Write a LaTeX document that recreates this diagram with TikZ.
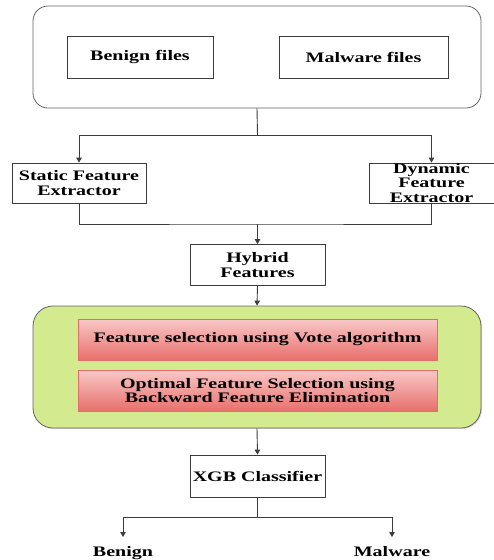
\documentclass[tikz,border=0pt]{standalone}
\usepackage{fontspec}
\setmainfont[FakeStretch=1.38]{Liberation Serif}
\usepackage{tikz}
\usetikzlibrary{arrows.meta, positioning, shadows}
\definecolor{linegray}{RGB}{60,60,60}
\definecolor{panelgreen}{RGB}{212,234,143}
\definecolor{redtop}{RGB}{248,200,199}
\definecolor{redbot}{RGB}{232,112,108}
\definecolor{redline}{RGB}{226,110,108}
\tikzset{
  box/.style={
    draw=linegray, rectangle, fill=white,
    font=\fontsize{14.5}{14.5}\selectfont\bfseries,
    align=center, inner sep=0pt, line width=0.8pt
  },
  panel/.style={
    draw=linegray!80, rectangle, line width=0.8pt, inner sep=0pt
  },
  redbox/.style={
    draw=redline, rectangle, top color=redtop, bottom color=redbot,
    font=\fontsize{14.5}{14.5}\selectfont\bfseries,
    align=center, inner sep=0pt, line width=0.6pt
  },
  outtext/.style={font=\fontsize{14.5}{14.5}\selectfont\bfseries, inner sep=0pt, anchor=base},
  arrow/.style={-{Triangle[length=5pt,width=5.5pt]}, line width=0.9pt, draw=linegray},
  wire/.style={line width=0.9pt, draw=linegray}
}
\begin{document}
\begin{tikzpicture}[x=1pt, y=-1pt]
  \useasboundingbox (0,0) rectangle (494,560);

  % input files
  \node[panel, rounded corners=15pt, minimum width=448pt, minimum height=102pt] (input) at (257,57) {};
  \node[box, minimum width=146pt, minimum height=42pt] (benign) at (140,57) {Benign files};
  \node[box, minimum width=169pt, minimum height=42pt] (malware) at (363.5,57) {Malware files};

  % extractors
  \node[box, minimum width=134pt, minimum height=40pt] (static) at (79,183) {Static Feature\\Extractor};
  \node[box, minimum width=125pt, minimum height=40pt] (dynamic) at (431.5,183) {Dynamic\\Feature\\Extractor};
  \node[box, minimum width=135pt, minimum height=41pt] (hybrid) at (257.5,265) {Hybrid\\Features};

  % feature selection
  \node[panel, fill=panelgreen, rounded corners=20pt, minimum width=448pt, minimum height=122pt,
        drop shadow={shadow xshift=1pt, shadow yshift=-1pt, opacity=0.3}] (select) at (257,367) {};
  \node[redbox, minimum width=359pt, minimum height=41pt] (vote) at (257.5,339.5) {Feature selection using Vote algorithm};
  \node[redbox, minimum width=359pt, minimum height=41pt] (bfe) at (257.5,390.5) {Optimal Feature Selection using\\Backward Feature Elimination};

  % classifier
  \node[box, minimum width=135pt, minimum height=42pt] (xgb) at (257.5,476) {XGB Classifier};
  \node[outtext] (isbenign) at (123,556) {Benign};
  \node[outtext] (ismalware) at (392,556) {Malware};

  \coordinate (split) at (257.5,135);
  \coordinate (join) at (257.5,224);
  \coordinate (fork) at (257.5,517);
  \coordinate (tobenign) at (123,537);
  \coordinate (tomalware) at (392,537);

  \draw[wire] (input.south) -- (split);
  \draw[arrow] (split) -| (static.north);
  \draw[arrow] (split) -| (dynamic.north);
  \draw[wire] (static.south) |- (join) -| (dynamic.south);
  \draw[arrow] (join) -- (hybrid.north);
  \draw[arrow] (hybrid.south) -- (select.north);
  \draw[arrow] (select.south) -- (xgb.north);
  \draw[wire] (xgb.south) -- (fork);
  \draw[arrow] (fork) -| (tobenign);
  \draw[arrow] (fork) -| (tomalware);
\end{tikzpicture}
\end{document}
